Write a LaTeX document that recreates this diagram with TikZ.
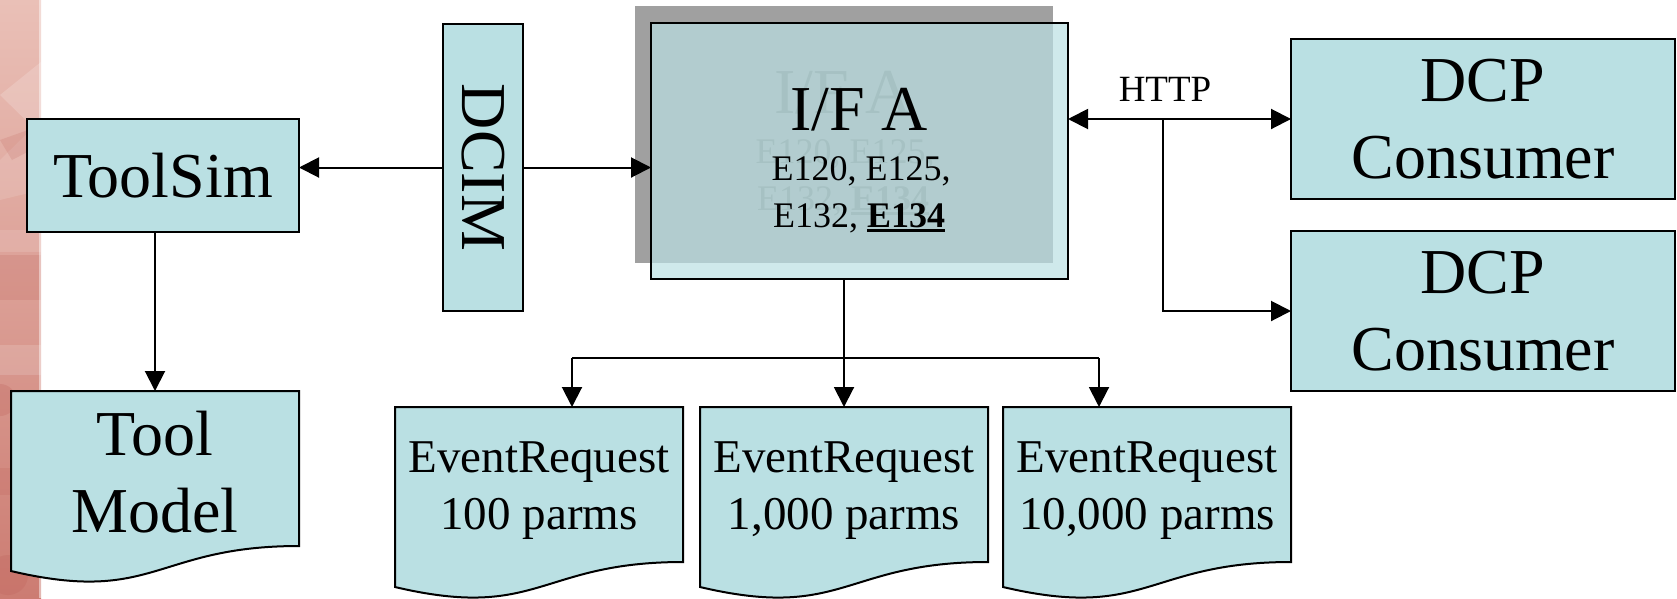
\documentclass[tikz,border=0pt]{standalone}
\usepackage{fontspec}
\setmainfont{Liberation Serif}
\usetikzlibrary{arrows.meta,calc,backgrounds}

\definecolor{boxfill}{RGB}{186,224,227}
\definecolor{shadowgray}{RGB}{160,160,160}
\definecolor{ghosttext}{RGB}{120,120,120}
\definecolor{stripTop}{RGB}{234,192,183}
\definecolor{stripBottom}{RGB}{204,124,114}
\definecolor{stripDark}{RGB}{190,95,88}

\newcommand\bigtext{\fontsize{64pt}{77pt}\selectfont}
\newcommand\midtext{\fontsize{47pt}{57pt}\selectfont}
\newcommand\smalltext{\fontsize{36pt}{47pt}\selectfont}
\newcommand\httptext{\fontsize{37pt}{44pt}\selectfont}
% bold text with a heavy underline
\newcommand\thickul[1]{\setbox0\hbox{#1}\rlap{\rule[-5pt]{\wd0}{3pt}}\box0}

\tikzset{
  box/.style={draw=black, line width=2pt, fill=boxfill, inner sep=0pt,
    outer sep=0pt, align=center, font=\bigtext},
  docbody/.style={inner sep=0pt, outer sep=0pt, align=center,
    minimum width=288pt, anchor=north},
  docshape/.style={fill=boxfill, draw=black, line width=2pt, line join=miter},
  conn/.style={line width=2pt},
  arr/.style={line width=2pt, -{Triangle[length=20pt,width=20pt]}},
  arrboth/.style={line width=2pt,
    {Triangle[length=20pt,width=20pt]}-{Triangle[length=20pt,width=20pt]}},
}

\begin{document}
\begin{tikzpicture}[x=1pt, y=-1pt]
\useasboundingbox (0,0) rectangle (1677,598);

% ---- boxes -------------------------------------------------------------
\node[box, minimum width=272pt, minimum height=113pt] (toolsim) at (163,175.5) {ToolSim};
\node[box, minimum width=80pt, minimum height=287pt] (dcim) at (483,167.5) {\rotatebox{-90}{DCIM}};
\node[box, fill opacity=0.7, text opacity=1, minimum width=417pt, minimum height=256pt] (ifa) at (859.5,151) {};
\node[font=\bigtext, anchor=base] (ifatitle) at (859,130) {I/F A};
\node[font=\smalltext, anchor=base] (ifaev1) at (861,180) {E120, E125,};
\node[font=\smalltext, anchor=base] (ifaev2) at (859,227) {E132, \thickul{\bfseries E134}};

\node[box, minimum width=384pt, minimum height=160pt] (dcp1) at (1483,119) {DCP\\Consumer};
\node[box, minimum width=384pt, minimum height=160pt] (dcp2) at (1483,311) {DCP\\Consumer};

% document-shaped boxes (text bodies; outlines drawn behind)
\node[docbody, font=\bigtext, minimum height=162pt] (tm) at (155,391) {Tool\\Model};
\node[docbody, font=\midtext, minimum height=168pt] (er1) at (539,407) {EventRequest\\100 parms};
\node[docbody, font=\midtext, minimum height=168pt] (er2) at (844,407) {EventRequest\\1,000 parms};
\node[docbody, font=\midtext, minimum height=168pt] (er3) at (1147,407) {EventRequest\\10,000 parms};

\node[font=\httptext, anchor=base] (http) at (1165,101) {HTTP};

% ---- connectors --------------------------------------------------------
\draw[arr] (dcim.west) -- (dcim.west -| toolsim.east);
\draw[arr] (dcim.east) -- (dcim.east -| ifa.west);
\draw[arr] (tm.north |- toolsim.south) -- (tm.north);

\coordinate (busL) at (572,358);
\coordinate (busR) at (1099,358);
\draw[conn] (busL) -- (busR);
\draw[arr] (er2.north |- ifa.south) -- (er2.north);
\draw[arr] (busL) -- (busL |- er1.north);
\draw[arr] (busR) -- (busR |- er3.north);

\coordinate (httpfork) at (1163,119);
\draw[arrboth] (dcp1.west -| ifa.east) -- (dcp1.west);
\draw[arr] (httpfork) |- (dcp2.west);

% ---- background layer --------------------------------------------------
\begin{pgfonlayer}{background}
  % decorative strip on the left edge
  \shade[top color=stripTop, bottom color=stripBottom] (0,0) rectangle (41,598);
  \fill[white, opacity=0.18] (0,95) -- (41,62) -- (41,135) -- cycle;
  \fill[white, opacity=0.12] (0,160) -- (41,120) -- (41,190) -- (0,200) -- cycle;
  \fill[stripDark, opacity=0.18] (0,140) -- (28,130) -- (41,145) -- (12,160) -- cycle;
  \fill[white, opacity=0.12] (0,230) rectangle (41,252);
  \fill[stripDark, opacity=0.2] (0,255) rectangle (41,300);
  \fill[white, opacity=0.15] (0,345) rectangle (41,375);
  \fill[stripDark, opacity=0.25] (0,400) circle (16);
  \fill[stripDark, opacity=0.2] (0,468) rectangle (41,495);
  \fill[stripDark, opacity=0.25] (8,575) circle (20);
  \fill[white, opacity=0.45] (39,0) rectangle (43,598);

  % drop shadow of the I/F A box, with its offset text
  \fill[shadowgray] (635,6) rectangle (1053,263);
  \node[font=\bigtext, anchor=base, text=ghosttext] (ghosttitle) at (843,113) {I/F A};
  \node[font=\smalltext, anchor=base, text=ghosttext] (ghostev1) at (845,163) {E120, E125,};
  \node[font=\smalltext, anchor=base, text=ghosttext] (ghostev2) at (843,210) {E132, \thickul{\bfseries E134}};

  % document outlines with a wavy lower edge
  \foreach \n in {tm,er1,er2,er3}{
    \filldraw[docshape] (\n.north west) -- (\n.north east)
      -- ($(\n.north east)+(0,155)$)
      .. controls ($(\n.north)+(0,155)$) and ($(\n.north)+(0,214)$) ..
      ($(\n.north west)+(0,180)$) -- cycle;
  }
\end{pgfonlayer}
\end{tikzpicture}
\end{document}
